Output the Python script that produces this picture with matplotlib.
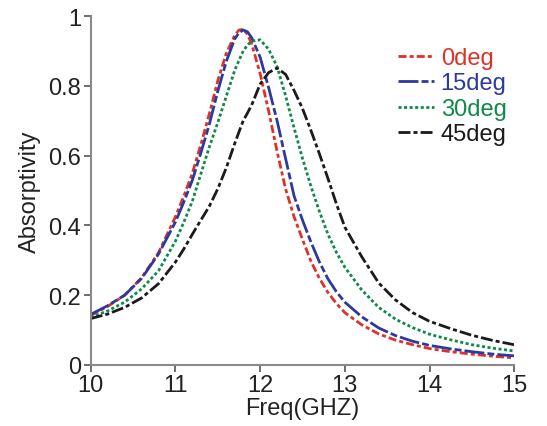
import matplotlib
matplotlib.use('Agg')

import matplotlib.pyplot as plt
from matplotlib.ticker import FormatStrFormatter

plt.rcParams['font.family'] = ['Liberation Sans', 'DejaVu Sans']

# frequency grid (GHz)
freq = [10.0, 10.2, 10.4, 10.6, 10.8, 11.0, 11.1, 11.2, 11.3, 11.4, 11.5, 11.6, 11.7, 11.75,
        11.8, 11.85, 11.9, 12.0, 12.1, 12.2, 12.3, 12.4, 12.5, 12.6, 12.7, 12.8, 12.9, 13.0,
        13.2, 13.4, 13.6, 13.8, 14.0, 14.25, 14.5, 14.75, 15.0]

abs_0deg = [0.142, 0.168, 0.200, 0.250, 0.322, 0.425, 0.485, 0.550, 0.632, 0.720, 0.815, 0.893,
            0.945, 0.960, 0.962, 0.948, 0.920, 0.835, 0.728, 0.612, 0.505, 0.425, 0.360, 0.297,
            0.248, 0.208, 0.176, 0.150, 0.115, 0.089, 0.071, 0.058, 0.047, 0.038, 0.031, 0.025,
            0.020]
abs_15deg = [0.145, 0.170, 0.200, 0.248, 0.318, 0.410, 0.468, 0.530, 0.608, 0.690, 0.785, 0.870,
             0.935, 0.952, 0.960, 0.955, 0.938, 0.882, 0.795, 0.700, 0.592, 0.485, 0.415, 0.352,
             0.295, 0.247, 0.210, 0.180, 0.138, 0.106, 0.084, 0.068, 0.056, 0.046, 0.038, 0.031,
             0.026]
abs_30deg = [0.136, 0.155, 0.180, 0.218, 0.270, 0.355, 0.410, 0.470, 0.548, 0.625, 0.695, 0.770,
             0.845, 0.873, 0.900, 0.917, 0.928, 0.932, 0.905, 0.855, 0.772, 0.680, 0.592, 0.512,
             0.440, 0.375, 0.323, 0.280, 0.215, 0.165, 0.131, 0.107, 0.088, 0.072, 0.058, 0.048,
             0.040]
abs_45deg = [0.133, 0.146, 0.165, 0.192, 0.233, 0.295, 0.333, 0.375, 0.415, 0.455, 0.505, 0.565,
             0.635, 0.668, 0.700, 0.722, 0.745, 0.805, 0.838, 0.851, 0.833, 0.787, 0.735, 0.672,
             0.605, 0.535, 0.462, 0.395, 0.310, 0.235, 0.186, 0.150, 0.125, 0.104, 0.085, 0.070,
             0.058]

labels = ['0deg', '15deg', '30deg', '45deg']
colors = ['#dc3228', '#2b3a9e', '#0f8a48', '#1a1a1a']
styles = [(0, (2.9, 1.1, 1.45, 1.1)),
          (0, (7.2, 1.1, 2.5, 1.1)),
          (0, (1.1, 0.9)),
          (0, (4.3, 1.1, 1.45, 1.1))]

fig = plt.figure(figsize=(5.47, 4.27), dpi=100)
ax = fig.add_axes([0.166, 0.143, 0.774, 0.817])

for ys, lab, c, ls in zip([abs_0deg, abs_15deg, abs_30deg, abs_45deg], labels, colors, styles):
    ax.plot(freq, ys, color=c, linestyle=ls, linewidth=2, label=lab)

ax.set_xlim(10, 15)
ax.set_ylim(0, 1)
ax.set_xticks([10, 11, 12, 13, 14, 15])
ax.set_yticks([0, 0.2, 0.4, 0.6, 0.8, 1])
ax.yaxis.set_major_formatter(FormatStrFormatter('%g'))

for s in ['top', 'right']:
    ax.spines[s].set_visible(False)
for s in ['left', 'bottom']:
    ax.spines[s].set_color('#8a8a8a')
    ax.spines[s].set_linewidth(1.5)

ax.tick_params(axis='both', direction='out', length=5, width=1.2, color='#555555',
               labelsize=17, labelcolor='#222222')
ax.tick_params(axis='x', pad=1.5)
ax.tick_params(axis='y', pad=2)

ax.set_xlabel('Freq(GHZ)', fontsize=17, color='#222222', labelpad=1)
ax.set_ylabel('Absorptivity', fontsize=17, color='#222222', labelpad=5)

leg = fig.legend(loc='upper left', bbox_to_anchor=(0.728, 0.888), frameon=False,
                 fontsize=17, handlelength=1.5, handletextpad=0.3, labelspacing=0.15,
                 borderpad=0, borderaxespad=0)
for t, c in zip(leg.get_texts(), colors):
    t.set_color(c)

fig.savefig('out.png', dpi=100)
